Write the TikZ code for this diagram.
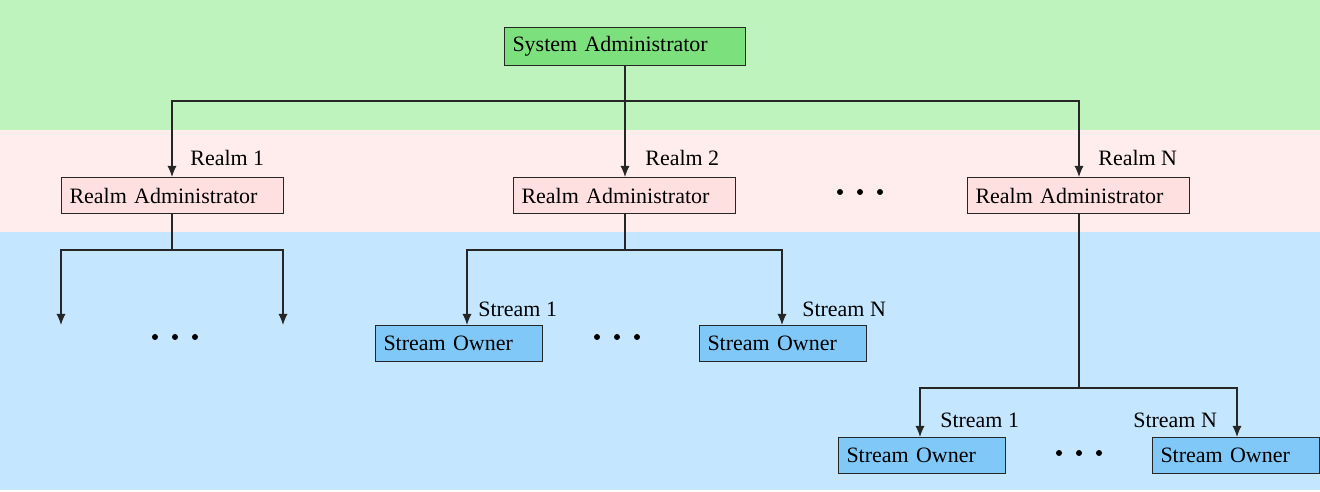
\documentclass[tikz,border=0pt]{standalone}
\usepackage{fontspec}
\setmainfont{Liberation Serif}
\usetikzlibrary{arrows.meta}
\definecolor{bggreen}{RGB}{190,243,190}
\definecolor{bgpink}{RGB}{255,236,236}
\definecolor{bgblue}{RGB}{196,230,255}
\definecolor{sysgreen}{RGB}{124,224,124}
\definecolor{realmpink}{RGB}{255,224,224}
\definecolor{streamblue}{RGB}{128,200,248}
\tikzset{
  box/.style={draw=black!85, line width=0.6pt, rectangle, anchor=north west, inner xsep=0.16cm, inner ysep=0pt,
    font=\fontsize{12.5}{15}\selectfont, align=left},
  sysbox/.style={box, fill=sysgreen, minimum width=4.82cm, minimum height=0.76cm, text width=4.50cm},
  realmbox/.style={box, fill=realmpink, minimum width=4.44cm, minimum height=0.72cm, text width=4.12cm},
  streambox/.style={box, fill=streamblue, minimum width=3.34cm, minimum height=0.72cm, text width=3.02cm},
  lbl/.style={anchor=west, inner sep=0pt, font=\fontsize{12.5}{15}\selectfont},
  conn/.style={draw=black!85, line width=0.6pt},
  arr/.style={conn, -{Latex[length=0.22cm, width=0.18cm]}},
}
\begin{document}
\begin{tikzpicture}[x=0.02cm, y=-0.02cm]
\useasboundingbox (0,0) rectangle (1320,492);
% bands
\fill[bggreen] (0,0) rectangle (1320,130);
\fill[bgpink] (0,130) rectangle (1320,232);
\fill[bgblue] (0,232) rectangle (1320,490);
% system admin
\node[sysbox] (sys) at (504,27) {System Administrator};
% realm admins
\node[realmbox] (r1) at (61,177) {Realm Administrator};
\node[realmbox] (r2) at (513,177) {Realm Administrator};
\node[realmbox] (r3) at (967,177) {Realm Administrator};
% stream owners
\node[streambox] (s21) at (375,325) {Stream Owner};
\node[streambox] (s2n) at (699,325) {Stream Owner};
\node[streambox] (s31) at (838,437) {Stream Owner};
\node[streambox] (s3n) at (1152,437) {Stream Owner};
% labels
\node[lbl] (l1) at (190,158) {Realm 1};
\node[lbl] (l2) at (645,158) {Realm 2};
\node[lbl] (l3) at (1098,158) {Realm N};
\node[lbl] (l21) at (478,309) {Stream 1};
\node[lbl] (l2n) at (802,309) {Stream N};
\node[lbl] (l31) at (940,420) {Stream 1};
\node[lbl] (l3n) at (1133,420) {Stream N};
% branch coordinates
\coordinate (j0) at (625,101);
\coordinate (j1) at (172,250);
\coordinate (j2) at (625,250);
\coordinate (j3) at (1079,388);
\coordinate (e1) at (61,325);
\coordinate (e2) at (283,325);
% connectors
\draw[conn] (sys.south -| j0) -- (j0);
\draw[arr] (j0) -| (r1.north -| 172,0);
\draw[arr] (j0) -- (r2.north -| j0);
\draw[arr] (j0) -| (r3.north -| 1079,0);
\draw[conn] (r1.south -| j1) -- (j1);
\draw[arr] (j1) -| (e1);
\draw[arr] (j1) -| (e2);
\draw[conn] (r2.south -| j2) -- (j2);
\draw[arr] (j2) -| (s21.north -| 467,0);
\draw[arr] (j2) -| (s2n.north -| 782,0);
\draw[conn] (r3.south -| j3) -- (j3);
\draw[arr] (j3) -| (s31.north -| 920,0);
\draw[arr] (j3) -| (s3n.north -| 1237,0);
% ellipses
\foreach \cx/\cy in {860/192, 175/337, 617/337, 1079/453}{
  \foreach \d in {-20,0,20}{
    \fill (\cx+\d,\cy) circle (3);
  }
}
\end{tikzpicture}
\end{document}
